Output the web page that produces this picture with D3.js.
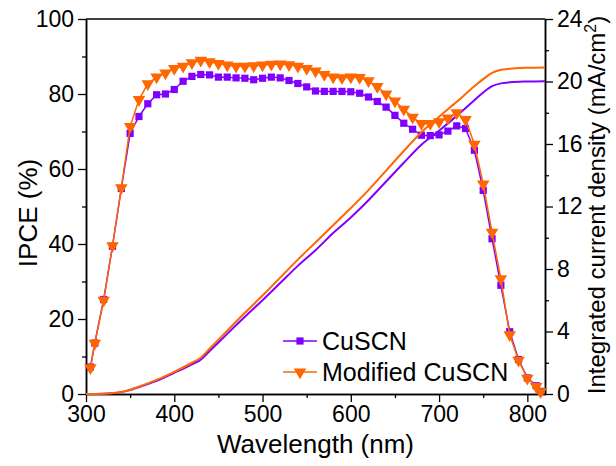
<!DOCTYPE html>
<html>
<head>
<meta charset="utf-8">
<script src="https://d3js.org/d3.v7.min.js"></script>
<style>
  body { margin: 0; background: #fff; }
  text { font-family: Arial, "Liberation Sans", sans-serif; fill: #000; }
</style>
</head>
<body>
<div id="chart"></div>
<script>
// IPCE points
var wavelength = [305, 310, 320, 330, 340, 350, 360, 370, 380, 390, 400, 410, 420, 430, 440, 450, 460, 470, 480, 490,
  500, 510, 520, 530, 540, 550, 560, 570, 580, 590, 600, 610, 620, 630, 640, 650, 660, 670, 680, 690,
  700, 710, 720, 730, 740, 750, 760, 770, 780, 790, 800, 810, 815];
var ipceCuSCN = [7.2, 13.6, 25.2, 39.4, 54.8, 69.5, 74.0, 77.4, 79.8, 80.0, 81.2, 83.4, 84.7, 85.2, 85.1, 84.5, 84.5, 84.3, 84.2, 83.8,
  84.2, 84.5, 84.3, 83.6, 82.8, 81.9, 80.8, 80.7, 80.7, 80.7, 80.6, 80.2, 79.2, 78.0, 76.5, 74.3, 72.2, 70.6, 69.0, 68.9,
  69.1, 70.1, 71.5, 70.8, 65.0, 54.3, 41.4, 29.0, 16.6, 9.2, 4.3, 2.2, 0.7];
var ipceModified = [7.0, 13.5, 25.0, 39.5, 55.0, 71.3, 78.5, 82.7, 84.5, 85.6, 86.8, 87.4, 88.3, 89.0, 88.6, 88.1, 87.7, 87.4, 87.4, 87.5,
  87.7, 87.9, 88.0, 87.8, 87.4, 86.8, 86.1, 85.2, 84.5, 84.3, 84.5, 84.4, 83.5, 82.0, 80.0, 78.1, 75.9, 73.8, 72.1, 72.1,
  72.6, 73.6, 75.0, 73.2, 66.6, 56.0, 43.1, 30.7, 15.8, 9.0, 4.2, 2.0, 0.6];

// integrated current density (mA/cm2)
var jscWavelength = [300, 320, 340, 350, 360, 380, 400, 420, 430, 440, 460, 480, 500, 520, 540, 560, 580, 600,
  620, 640, 660, 680, 700, 720, 740, 750, 760, 770, 780, 800, 820];
var jscCuSCN = [0, 0.02, 0.12, 0.25, 0.45, 0.85, 1.36, 1.9, 2.2, 2.75, 3.85, 4.95, 6.0, 7.1, 8.2, 9.2, 10.3, 11.3,
  12.4, 13.6, 14.8, 15.95, 16.85, 17.8, 18.8, 19.3, 19.7, 19.88, 19.95, 20.0, 20.02];
var jscModified = [0, 0.02, 0.13, 0.27, 0.47, 0.9, 1.42, 2.0, 2.32, 2.9, 4.05, 5.2, 6.3, 7.45, 8.6, 9.7, 10.8, 11.9,
  13.05, 14.3, 15.55, 16.75, 17.75, 18.7, 19.7, 20.15, 20.55, 20.75, 20.82, 20.88, 20.9];

var seriesNames = ["CuSCN", "Modified CuSCN"];
var seriesColors = ["#8000ff", "#ff6600"];

var xTicks = [300, 400, 500, 600, 700, 800],
  xMinor = [350, 450, 550, 650, 750];
var yTicks = [0, 20, 40, 60, 80, 100],
  yMinor = [10, 30, 50, 70, 90];
var y2Ticks = [0, 4, 8, 12, 16, 20, 24],
  y2Minor = [2, 6, 10, 14, 18, 22];

var width = 616,
  height = 466;
var pLeft = 86, pRight = 545, pTop = 19, pBottom = 394; // plot frame (window.top is taken)

var svg = d3.select("#chart")
  .append("svg")
  .attr("width", width)
  .attr("height", height);

var x = d3.scaleLinear().domain([300, 820]).range([pLeft, pRight]);
var y = d3.scaleLinear().domain([0, 100]).range([pBottom, pTop]);
var y2 = d3.scaleLinear().domain([0, 24]).range([pBottom, pTop]);

function styleAxis(g) {
  g.selectAll("path").attr("stroke", "#000").attr("stroke-width", 1.5);
  g.selectAll("line").attr("stroke", "#000").attr("stroke-width", 1.3);
  g.selectAll("text").attr("font-size", "23px").attr("font-family", "Arial, 'Liberation Sans', sans-serif");
}

// minor ticks first, then the main axes on top
svg.append("g").attr("transform", "translate(0," + pBottom + ")")
  .call(d3.axisBottom(x).tickValues(xMinor).tickSize(4).tickFormat("").tickSizeOuter(0)).call(styleAxis);
svg.append("g").attr("transform", "translate(" + pLeft + ",0)")
  .call(d3.axisLeft(y).tickValues(yMinor).tickSize(4).tickFormat("").tickSizeOuter(0)).call(styleAxis);
svg.append("g").attr("transform", "translate(" + pRight + ",0)")
  .call(d3.axisRight(y2).tickValues(y2Minor).tickSize(4).tickFormat("").tickSizeOuter(0)).call(styleAxis);

svg.append("g").attr("transform", "translate(0," + pBottom + ")")
  .call(d3.axisBottom(x).tickValues(xTicks).tickSize(8).tickPadding(4).tickSizeOuter(0)).call(styleAxis);
svg.append("g").attr("transform", "translate(" + pLeft + ",0)")
  .call(d3.axisLeft(y).tickValues(yTicks).tickSize(8).tickPadding(4).tickSizeOuter(0)).call(styleAxis);
svg.append("g").attr("transform", "translate(" + pRight + ",0)")
  .call(d3.axisRight(y2).tickValues(y2Ticks).tickSize(8).tickPadding(4).tickSizeOuter(0)).call(styleAxis);

// top frame line
svg.append("line")
  .attr("x1", pLeft).attr("x2", pRight)
  .attr("y1", pTop).attr("y2", pTop)
  .attr("stroke", "#000").attr("stroke-width", 1.5);

var plot = svg.append("g");

var ipceLine = d3.line()
  .x(function(d) { return x(d[0]); })
  .y(function(d) { return y(d[1]); });

var jscLine = d3.line()
  .curve(d3.curveMonotoneX)
  .x(function(d) { return x(d[0]); })
  .y(function(d) { return y2(d[1]); });

var ipceSets = [ipceCuSCN, ipceModified];
var jscSets = [jscCuSCN, jscModified];
var square = d3.symbol().type(d3.symbolSquare).size(52);
var triangle = d3.symbol().type(d3.symbolTriangle).size(68);

for (var s = 0; s < 2; s++) {
  var pts = wavelength.map(function(w, i) { return [w, ipceSets[s][i]]; });
  var jpts = jscWavelength.map(function(w, i) { return [w, jscSets[s][i]]; });

  plot.append("path")
    .datum(jpts)
    .attr("d", jscLine)
    .attr("fill", "none")
    .attr("stroke", seriesColors[s])
    .attr("stroke-width", 2);

  plot.append("path")
    .datum(pts)
    .attr("d", ipceLine)
    .attr("fill", "none")
    .attr("stroke", seriesColors[s])
    .attr("stroke-width", 1.5);

  plot.selectAll("mark" + s)
    .data(pts)
    .enter()
    .append("path")
    .attr("d", s === 0 ? square : triangle)
    .attr("transform", function(d) {
      return "translate(" + x(d[0]) + "," + y(d[1]) + ")" + (s === 1 ? " rotate(180)" : "");
    })
    .attr("fill", seriesColors[s]);
}

// legend
var legend = svg.append("g");
seriesNames.forEach(function(name, i) {
  var ly = 341 + i * 31;
  legend.append("line")
    .attr("x1", 283).attr("x2", 317)
    .attr("y1", ly).attr("y2", ly)
    .attr("stroke", seriesColors[i]).attr("stroke-width", 1.5);
  legend.append("path")
    .attr("d", i === 0 ? square : triangle)
    .attr("transform", "translate(300," + ly + ")" + (i === 1 ? " rotate(180)" : ""))
    .attr("fill", seriesColors[i]);
  legend.append("text")
    .attr("x", 322).attr("y", ly)
    .attr("dy", "0.36em")
    .attr("font-size", "25px")
    .text(name);
});

// axis titles
svg.append("text")
  .attr("x", (pLeft + pRight) / 2).attr("y", 453)
  .attr("text-anchor", "middle")
  .attr("font-size", "26px")
  .text("Wavelength (nm)");

svg.append("text")
  .attr("transform", "translate(37,213) rotate(-90)")
  .attr("text-anchor", "middle")
  .attr("font-size", "26px")
  .text("IPCE (%)");

var rt = svg.append("text")
  .attr("transform", "translate(605,205) rotate(-90)")
  .attr("text-anchor", "middle")
  .attr("font-size", "24px");
rt.append("tspan").text("Integrated current density (mA/cm");
rt.append("tspan").attr("font-size", "16px").attr("dy", "-9").text("2");
rt.append("tspan").attr("dy", "9").text(")");
</script>
</body>
</html>
